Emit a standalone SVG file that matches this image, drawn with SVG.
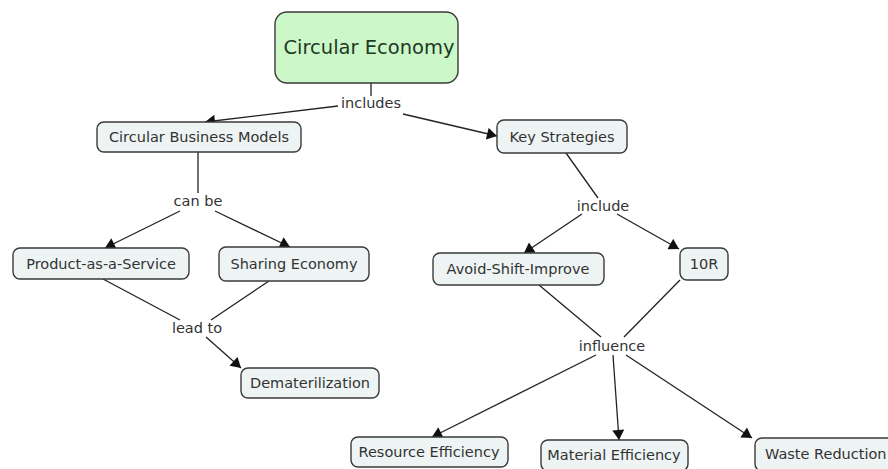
<svg xmlns="http://www.w3.org/2000/svg" width="888" height="469" viewBox="0 0 888 469">
<style>
.n rect{fill:#eef3f3;stroke:#3a3a3a;stroke-width:1.4}
.n text,.l{font-family:"DejaVu Sans",Verdana,sans-serif;font-size:14.5px;fill:#333;text-anchor:middle}
.c line{stroke:#222;stroke-width:1.3}
.c line.a{marker-end:url(#ah)}
</style>
<defs>
<marker id="ah" viewBox="0 0 10 12" refX="10" refY="6" markerWidth="11" markerHeight="12" markerUnits="userSpaceOnUse" orient="auto"><path d="M0,0 L10,6 L0,12 z" fill="#111"/></marker>
</defs>
<rect width="888" height="469" fill="#fff"/>
<g class="c" id="connectors">
<line x1="371" y1="83" x2="371" y2="96"/>
<line class="a" x1="338" y1="106" x2="205" y2="122"/>
<line class="a" x1="403" y1="114" x2="497" y2="136"/>
<line x1="198" y1="152" x2="198" y2="193"/>
<line class="a" x1="180" y1="211" x2="105" y2="248"/>
<line class="a" x1="215" y1="211" x2="290" y2="247"/>
<line x1="566" y1="153" x2="598" y2="198"/>
<line class="a" x1="582" y1="214" x2="524" y2="253"/>
<line class="a" x1="617" y1="214" x2="679" y2="249"/>
<line x1="103" y1="279" x2="180" y2="320"/>
<line x1="269" y1="281" x2="211" y2="320"/>
<line class="a" x1="206" y1="337" x2="241" y2="368"/>
<line x1="539" y1="285" x2="601" y2="337"/>
<line x1="680" y1="280" x2="624" y2="337"/>
<line class="a" x1="596" y1="355" x2="432" y2="437"/>
<line class="a" x1="613" y1="355" x2="619" y2="440"/>
<line class="a" x1="626" y1="355" x2="752" y2="438"/>
</g>
<g id="labels">
<text class="l" x="371" y="108">includes</text>
<text class="l" x="198" y="206">can be</text>
<text class="l" x="197" y="333">lead to</text>
<text class="l" x="603" y="211">include</text>
<text class="l" x="612" y="351">influence</text>
</g>
<g id="ce">
<rect x="275" y="12" width="183" height="71" rx="12" fill="#ccf7c9" stroke="#3a3a3a" stroke-width="1.4"/>
<text x="369" y="54" font-family="DejaVu Sans,Verdana,sans-serif" font-size="19.5" fill="#1f3a1f" text-anchor="middle">Circular Economy</text>
</g>
<g class="n" id="cbm"><rect x="97" y="122" width="204" height="30" rx="7"/><text x="199" y="142">Circular Business Models</text></g>
<g class="n" id="ks"><rect x="497" y="120" width="130" height="33" rx="7"/><text x="562" y="142">Key Strategies</text></g>
<g class="n" id="paas"><rect x="13" y="248" width="176" height="31" rx="7"/><text x="101" y="269">Product-as-a-Service</text></g>
<g class="n" id="se"><rect x="219" y="247" width="150" height="34" rx="7"/><text x="294" y="269">Sharing Economy</text></g>
<g class="n" id="dm"><rect x="241" y="368" width="138" height="30" rx="7"/><text x="310" y="388">Dematerilization</text></g>
<g class="n" id="asi"><rect x="433" y="253" width="171" height="32" rx="7"/><text x="518" y="274">Avoid-Shift-Improve</text></g>
<g class="n" id="r10"><rect x="680" y="248" width="48" height="32" rx="7"/><text x="704" y="269">10R</text></g>
<g class="n" id="re"><rect x="351" y="437" width="157" height="30" rx="7"/><text x="429" y="457">Resource Efficiency</text></g>
<g class="n" id="me"><rect x="541" y="440" width="147" height="31" rx="7"/><text x="614" y="460">Material Efficiency</text></g>
<g class="n" id="wr"><rect x="755" y="438" width="140" height="33" rx="7"/><text x="765" y="459" style="text-anchor:start">Waste Reduction</text></g>
</svg>
